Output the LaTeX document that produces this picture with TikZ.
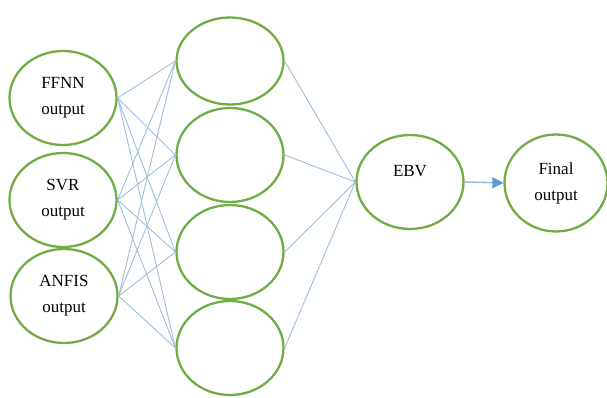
\documentclass[tikz,border=0pt]{standalone}
\usepackage{fontspec}
\setmainfont{Liberation Serif}
\usetikzlibrary{shapes.geometric,arrows.meta}

\definecolor{verde}{RGB}{112,173,71}
\definecolor{azul}{RGB}{91,155,213}
\definecolor{azulclaro}{RGB}{160,190,218}

\tikzset{
    neurona/.style={ellipse, draw=verde, line width=2.3pt, fill=white,
        minimum width=107pt, minimum height=94pt, inner sep=0pt,
        align=center, font=\fontsize{17}{26}\selectfont},
    conexion/.style={draw=azulclaro, line width=0.9pt}
}

\begin{document}
\begin{tikzpicture}[x=1pt, y=-1pt]

            % Marco
            \useasboundingbox (0,0) rectangle (607,398);

            % Entradas
            \node[neurona] (ffnn) at (63,98) {FFNN\\output};
            \node[neurona] (svr) at (63,200) {SVR\\output};
            \node[neurona] (anfis) at (64,296) {ANFIS\\output};

            % Capa oculta
            \node[neurona, minimum height=87pt] (h1) at (230,61) {};
            \node[neurona] (h2) at (230,155) {};
            \node[neurona] (h3) at (230,252) {};
            \node[neurona] (h4) at (230,348) {};

            % Salidas
            \node[neurona, text depth=22pt] (ebv) at (410,182) {EBV};
            \node[neurona, minimum width=103pt, minimum height=97pt] (final) at (556,183) {Final\\output};

            % Conexiones entrada -- capa oculta
            \draw[conexion] (ffnn.east) -- (h1.west) (ffnn.east) -- (h2.west)
                (ffnn.east) -- (h3.west) (ffnn.east) -- (h4.west);
            \draw[conexion] (svr.east) -- (h1.west) (svr.east) -- (h2.west)
                (svr.east) -- (h3.west) (svr.east) -- (h4.west);
            \draw[conexion] (anfis.east) -- (h1.west) (anfis.east) -- (h2.west)
                (anfis.east) -- (h3.west) (anfis.east) -- (h4.west);

            % Conexiones capa oculta -- EBV
            \draw[conexion] (h1.east) -- (ebv.west) (h2.east) -- (ebv.west)
                (h3.east) -- (ebv.west) (h4.east) -- (ebv.west);

            % Flecha final
            \draw[-{Triangle[length=11pt, width=11pt, color=azul, fill=azul]}, draw=azulclaro, line width=1.6pt]
                (ebv.east) -- (final.west);
        \end{tikzpicture}
\end{document}
